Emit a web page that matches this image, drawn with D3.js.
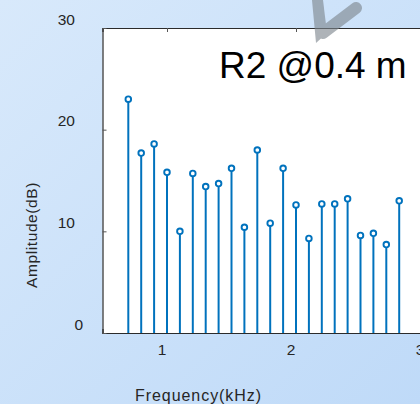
<!DOCTYPE html>
<html>
<head>
<meta charset="utf-8">
<script src="https://cdn.jsdelivr.net/npm/d3@7"></script>
<style>
  html, body { margin: 0; padding: 0; background: #c9e0f9; }
  svg { display: block; font-family: "Liberation Sans", Arial, sans-serif; }
</style>
</head>
<body>
<script>
// Stem spectrum: frequency (kHz) vs amplitude (dB)
const frequencies = [0.7, 0.8, 0.9, 1.0, 1.1, 1.2, 1.3, 1.4, 1.5, 1.6, 1.7,
                     1.8, 1.9, 2.0, 2.1, 2.2, 2.3, 2.4, 2.5, 2.6, 2.7, 2.8];
const amplitudes  = [23.0, 17.7, 18.6, 15.8, 10.0, 15.7, 14.4, 14.7, 16.2, 10.4, 18.0,
                     10.8, 16.2, 12.6, 9.3, 12.7, 12.7, 13.2, 9.6, 9.8, 8.7, 13.0];
const xTicks = [1, 2, 3];
const yTicks = [0, 10, 20, 30];
const title = "R2 @0.4 m";
const xLabel = "Frequency(kHz)";
const yLabel = "Amplitude(dB)";

const W = 420, H = 404;
const plotLeft = 102.5, plotTop = 28, plotBottom = 333;

const svg = d3.select("body").append("svg").attr("width", W).attr("height", H);

// soft blue backdrop
const defs = svg.append("defs");
const grad = defs.append("linearGradient").attr("id", "bg")
  .attr("x1", "0").attr("y1", "0").attr("x2", "1").attr("y2", "1");
grad.append("stop").attr("offset", "0").attr("stop-color", "#d8e9fb");
grad.append("stop").attr("offset", "1").attr("stop-color", "#bfdaf8");
svg.append("rect").attr("width", W).attr("height", H).attr("fill", "url(#bg)");

const x = d3.scaleLinear().domain([0.5, 3.5]).range([plotLeft, plotLeft + 3 * 129]);
const y = d3.scaleLinear().domain([0, 30]).range([plotBottom, plotTop]);

// plot area
svg.append("rect")
  .attr("x", x(0.5)).attr("y", y(30))
  .attr("width", x(3.5) - x(0.5)).attr("height", y(0) - y(30))
  .attr("fill", "#ffffff");

const axisColor = "#2b2b2b";

// bottom axis (ticks point inward)
const gx = svg.append("g").attr("transform", `translate(0,${plotBottom})`)
  .call(d3.axisBottom(x).tickValues(xTicks).tickSize(-4).tickFormat(d3.format("d")));
gx.selectAll("text").attr("y", 22).attr("dy", null).attr("dx", -5.5);

// top mirror axis
const gxt = svg.append("g").attr("transform", `translate(0,${plotTop})`)
  .call(d3.axisTop(x).tickValues(xTicks).tickSize(-4).tickFormat(""));

// left axis
const gy = svg.append("g").attr("transform", `translate(${plotLeft},0)`)
  .call(d3.axisLeft(y).tickValues(yTicks).tickSize(-4).tickFormat(d3.format("d")));
gy.selectAll("text")
  .attr("x", d => d === 0 ? -19.5 : -27.5)
  .attr("y", -4).attr("dy", null)
  .attr("text-anchor", "end");

[gx, gxt, gy].forEach(g => {
  g.select(".domain").attr("stroke", axisColor).attr("stroke-width", 1.2);
  g.selectAll(".tick line").attr("stroke", "#555").attr("stroke-width", 1);
  g.selectAll("text").attr("fill", "#262626").style("font-size", "15.5px")
    .style("font-family", "\"Liberation Sans\", Arial, sans-serif");
});

// stems
const stemColor = "#0072bd";
const stems = svg.append("g");
stems.selectAll("line").data(frequencies).join("line")
  .attr("x1", d => x(d)).attr("x2", d => x(d))
  .attr("y1", y(0)).attr("y2", (d, i) => y(amplitudes[i]))
  .attr("stroke", stemColor).attr("stroke-width", 2);
stems.selectAll("circle").data(frequencies).join("circle")
  .attr("cx", d => x(d)).attr("cy", (d, i) => y(amplitudes[i]))
  .attr("r", 2.8)
  .attr("fill", "#ffffff").attr("stroke", stemColor).attr("stroke-width", 1.9);

// title inside the axes
svg.append("text").attr("x", 219).attr("y", 78)
  .attr("fill", "#000").style("font-size", "37px").text(title);

// annotation pointer
const pointer = svg.append("g").attr("fill", "#7d868e").attr("stroke", "#7d868e")
  .attr("opacity", 0.62);
pointer.append("path").attr("d", "M312,0 L323,0 L327,33 L316,43 Z").attr("stroke", "none");
pointer.append("line").attr("x1", 356).attr("y1", 8).attr("x2", 323).attr("y2", 33)
  .attr("stroke-width", 12).attr("stroke-linecap", "round");

// axis titles
svg.append("text").attr("x", 198.5).attr("y", 400.5).attr("text-anchor", "middle")
  .attr("fill", "#262626").style("font-size", "16px").style("letter-spacing", "0.95px")
  .text(xLabel);
svg.append("text").attr("transform", "translate(36.5,235) rotate(-90)")
  .attr("text-anchor", "middle").attr("fill", "#262626")
  .style("font-size", "15.5px").style("letter-spacing", "0.6px")
  .text(yLabel);
</script>
</body>
</html>
